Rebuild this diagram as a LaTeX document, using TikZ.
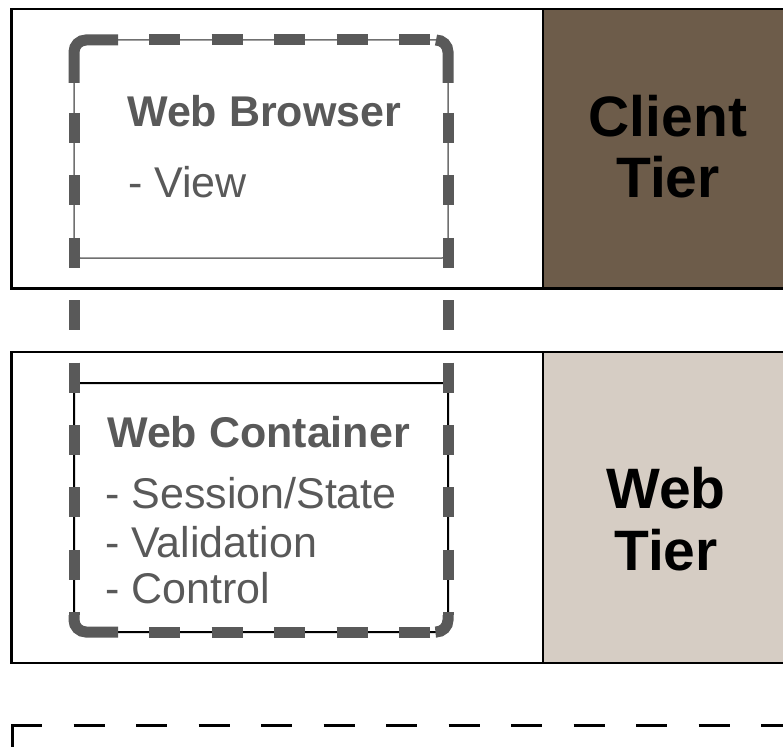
\documentclass[tikz,border=0pt]{standalone}
\usepackage{fontspec}
\setmainfont{Liberation Sans}
\definecolor{clientfill}{HTML}{6D5C4A}
\definecolor{webfill}{HTML}{D6CDC4}
\definecolor{dgray}{HTML}{595959}
\definecolor{tgray}{HTML}{707070}
\begin{document}
\begin{tikzpicture}[x=1pt,y=-1pt,
  tierbox/.style={draw=black,line width=2.5pt},
  thickdash/.style={draw=dgray,line width=11pt},
  cornerdash/.style={draw=dgray,line width=11pt,rounded corners=12pt},
  titletext/.style={anchor=base west,inner sep=0pt,text=dgray,font=\fontsize{43}{48}\selectfont\bfseries},
  bodytext/.style={anchor=base west,inner sep=0pt,text=dgray,font=\fontsize{43}{48}\selectfont},
  tiertext/.style={anchor=base,inner sep=0pt,text=black,font=\fontsize{57}{62}\selectfont\bfseries}]
\useasboundingbox (0,0) rectangle (783,746);
\clip (0,0) rectangle (783,746);
\fill[white] (0,0) rectangle (783,746);

% tier boxes
\draw[tierbox,fill=white] (11.5,9) rectangle (820,288.5);
\draw[tierbox,fill=clientfill] (543,9) rectangle (820,288.5);
\draw[tierbox,fill=white] (11.5,352) rectangle (820,663);
\draw[tierbox,fill=webfill] (543,352) rectangle (820,663);

% bottom dashed box
\draw[black,line width=3pt,dash pattern=on 31pt off 31.5pt,dash phase=0pt] (11,725) -- (820,725);
\draw[black,line width=3pt] (12,725) -- (12,760);

% thin boxes
\draw[tgray,line width=1.5pt,rounded corners=6pt] (74,40) rectangle (448,258);
\draw[black,line width=2pt,rounded corners=6pt] (74,383) rectangle (448,632);

% thick dashed outline
\draw[cornerdash] (74,83) -- (74,40) -- (118,40);
\draw[cornerdash] (436,40) -- (448,40) -- (448,83);
\draw[cornerdash] (74,615) -- (74,632) -- (118,632);
\draw[cornerdash] (437,632) -- (448,632) -- (448,615);
\draw[thickdash,dash pattern=on 31pt off 31.5pt,dash phase=31.5pt] (118,40) -- (436,40);
\draw[thickdash,dash pattern=on 31pt off 31.5pt,dash phase=31.5pt] (118,632) -- (437,632);
\draw[thickdash,dash pattern=on 30pt off 32.4pt,dash phase=32.4pt] (74,83) -- (74,615);
\draw[thickdash,dash pattern=on 30pt off 32.4pt,dash phase=32.4pt] (448,83) -- (448,615);

% texts
\node[titletext] (wb) at (127,127) {Web Browser};
\node[bodytext] (wbv) at (128,197) {- View};
\node[titletext] (wc) at (107,447) {Web Container};
\node[bodytext] (wc1) at (105,508) {- Session/State};
\node[bodytext] (wc2) at (105,557) {- Validation};
\node[bodytext] (wc3) at (105,603) {- Control};

\node[tiertext] (ct1) at (668,137) {Client};
\node[tiertext] (ct2) at (668,197) {Tier};
\node[tiertext] (wt1) at (666,508) {Web};
\node[tiertext] (wt2) at (666,570) {Tier};
\end{tikzpicture}
\end{document}
